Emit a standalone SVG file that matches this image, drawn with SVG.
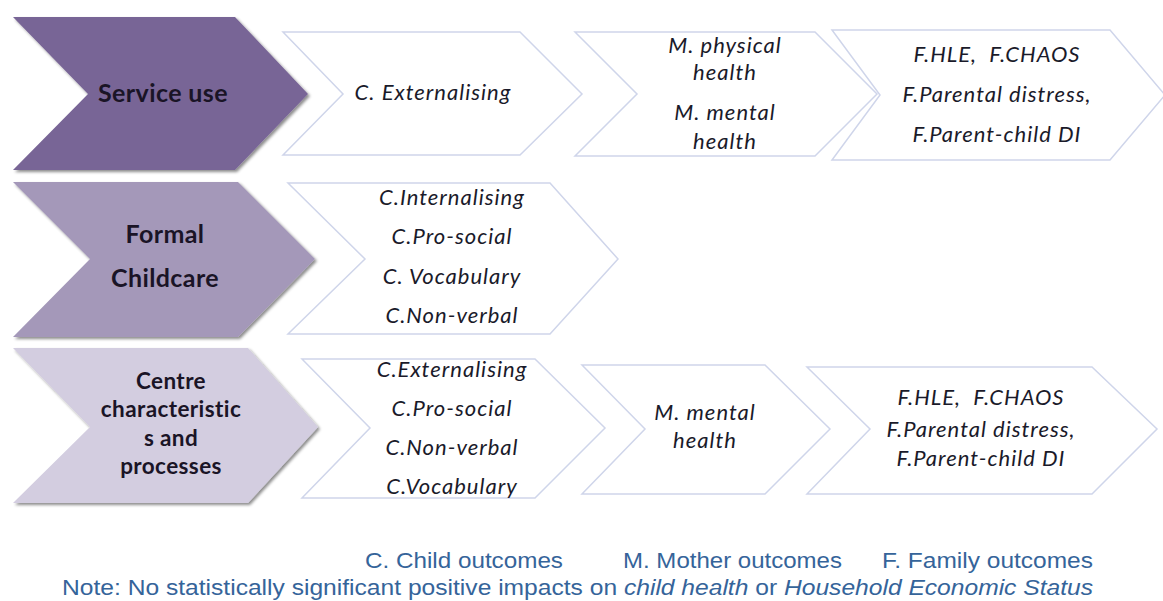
<svg xmlns="http://www.w3.org/2000/svg" width="1163" height="601" viewBox="0 0 1163 601">
<defs>
<filter id="sh" x="-5%" y="-5%" width="115%" height="115%">
<feDropShadow dx="2" dy="2" stdDeviation="1.5" flood-color="#000" flood-opacity="0.45"/>
</filter>
</defs>
<style>
.big{stroke:none;filter:url(#sh)}
.w{fill:#fff;stroke:#cfd5ea;stroke-width:1.5}
.bt{font-family:Lato,"Open Sans",sans-serif;font-weight:bold;fill:#1a1426;text-anchor:middle;letter-spacing:0.4px}
.it{font-family:Lato,"Open Sans",sans-serif;font-style:italic;fill:#1a1a2a;text-anchor:middle;font-size:22px;letter-spacing:1px}
.leg{font-family:"Liberation Sans",Arial,sans-serif;fill:#35649a;font-size:22px}
</style>
<rect width="1163" height="601" fill="#fff"/>
<g id="connectors"></g>
<g id="row1-service-use">
<polygon class="big" fill="#786596" points="13,17 235,17 308,94 235,170 13,170 88,94"/>
<text class="bt" x="163" y="102" font-size="25">Service use</text>
</g>
<g id="row1-c-externalising">
<polygon class="w" points="283,32 520,32 582,94 520,155 283,155 343,94"/>
<text class="it" x="433" y="100">C. Externalising</text>
</g>
<g id="row1-m-health">
<polygon class="w" points="575,32 815,32 877,94 815,156 575,156 637,94"/>
<text class="it" x="725" y="53">M. physical</text>
<text class="it" x="725" y="80">health</text>
<text class="it" x="725" y="120">M. mental</text>
<text class="it" x="725" y="149">health</text>
</g>
<g id="row1-family">
<polygon class="w" points="832,30 1110,30 1165,95 1110,160 832,160 880,95"/>
<text class="it" x="997" y="62">F.HLE,&#160; F.CHAOS</text>
<text class="it" x="997" y="102">F.Parental distress,</text>
<text class="it" x="997" y="142">F.Parent-child DI</text>
</g>
<g id="row2-formal-childcare">
<polygon class="big" fill="#a498b9" points="13,182 238,182 315,259 238,337 13,337 90,259"/>
<text class="bt" x="165" y="243" font-size="25">Formal</text>
<text class="bt" x="165" y="287" font-size="25">Childcare</text>
</g>
<g id="row2-child">
<polygon class="w" points="288,183 550,183 618,259 550,334 288,334 365,259"/>
<text class="it" x="452" y="205">C.Internalising</text>
<text class="it" x="452" y="244">C.Pro-social</text>
<text class="it" x="452" y="284">C. Vocabulary</text>
<text class="it" x="452" y="323">C.Non-verbal</text>
</g>
<g id="row3-centre">
<polygon class="big" fill="#d3cde0" points="13,348 248,348 318,427 248,503 13,503 90,427"/>
<text class="bt" x="171" y="389" font-size="22.5">Centre</text>
<text class="bt" x="171" y="417" font-size="22.5">characteristic</text>
<text class="bt" x="171" y="446" font-size="22.5">s and</text>
<text class="bt" x="171" y="474" font-size="22.5">processes</text>
</g>
<g id="row3-child">
<polygon class="w" points="302,359 535,359 605,428 535,498 302,498 370,428"/>
<text class="it" x="452" y="377">C.Externalising</text>
<text class="it" x="452" y="416">C.Pro-social</text>
<text class="it" x="452" y="455">C.Non-verbal</text>
<text class="it" x="452" y="494">C.Vocabulary</text>
</g>
<g id="row3-mother">
<polygon class="w" points="582,365 765,365 830,429 765,494 582,494 645,429"/>
<text class="it" x="705" y="420">M. mental</text>
<text class="it" x="705" y="448">health</text>
</g>
<g id="row3-family">
<polygon class="w" points="807,367 1092,367 1157,429 1092,494 807,494 870,429"/>
<text class="it" x="981" y="405">F.HLE,&#160; F.CHAOS</text>
<text class="it" x="981" y="437">F.Parental distress,</text>
<text class="it" x="981" y="466">F.Parent-child DI</text>
</g>
<g id="legend">
<text class="leg" x="365" y="568" textLength="198" lengthAdjust="spacingAndGlyphs">C. Child outcomes</text>
<text class="leg" x="623" y="568" textLength="219" lengthAdjust="spacingAndGlyphs">M. Mother outcomes</text>
<text class="leg" x="882" y="568" textLength="211" lengthAdjust="spacingAndGlyphs">F. Family outcomes</text>
<text class="leg" x="62" y="595" textLength="1031" lengthAdjust="spacingAndGlyphs">Note: No statistically significant positive impacts on <tspan font-style="italic">child health</tspan> or <tspan font-style="italic">Household Economic Status</tspan></text>
</g>
</svg>
